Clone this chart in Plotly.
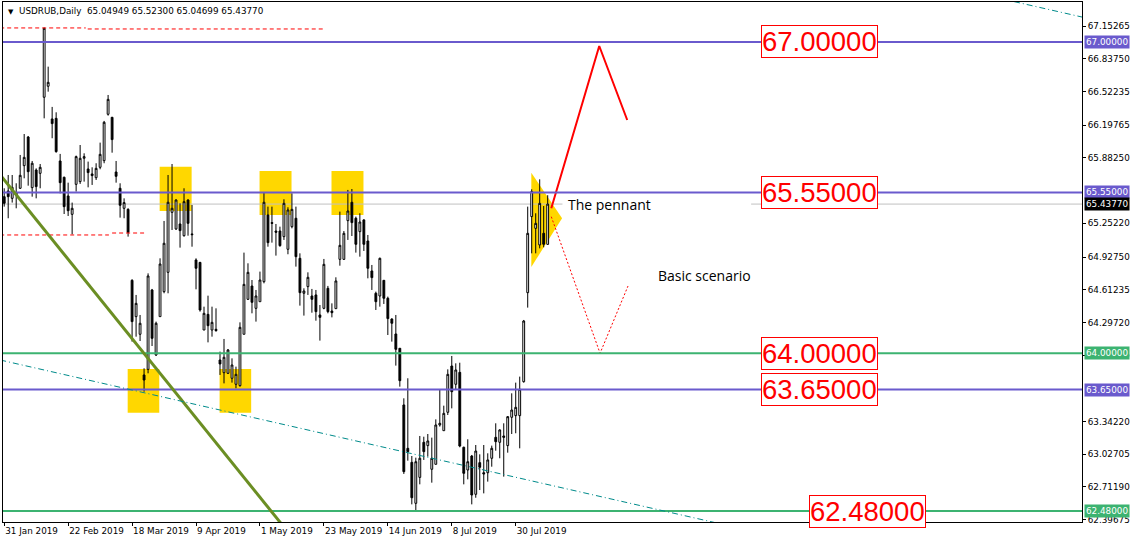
import plotly.graph_objects as go

# ---------------- data ----------------
tick_bars = [0, 16, 32, 48, 64, 80, 96, 112, 128]
tick_dates = ["31 Jan 2019", "22 Feb 2019", "18 Mar 2019", "9 Apr 2019", "1 May 2019",
              "23 May 2019", "14 Jun 2019", "8 Jul 2019", "30 Jul 2019"]

open_ = [65.509, 65.564, 65.493, 65.548, 65.590, 65.808, 66.084, 65.596, 65.766, 65.734,
         66.467, 66.573, 66.258, 66.264, 65.853, 65.696, 65.516, 65.339, 65.628, 65.654,
         65.879, 65.776, 65.728, 65.692, 65.792, 65.856, 66.303, 66.274, 65.747, 65.590,
         65.397, 65.387, 64.703, 64.353, 64.183, 63.791, 63.845, 64.610, 63.983, 64.353,
         64.594, 64.780, 65.358, 65.198, 65.246, 65.133, 65.477, 65.150, 64.899, 64.876,
         64.224, 64.375, 64.224, 64.231, 63.935, 63.813, 63.807, 63.759, 63.701, 63.688,
         64.183, 64.520, 64.648, 64.433, 64.497, 64.690, 65.333, 65.259, 65.178, 65.178,
         65.124, 65.002, 65.220, 65.301, 64.915, 64.578, 64.642, 64.552, 64.562, 64.369,
         64.433, 64.626, 64.407, 64.430, 64.905, 64.905, 65.278, 65.455, 65.301, 65.172,
         65.285, 65.082, 64.793, 64.578, 64.552, 64.703, 64.530, 64.330, 64.186, 64.048,
         63.502, 63.084, 62.949, 62.554, 62.804, 63.142, 63.110, 62.882, 62.930, 63.309,
         63.254, 63.431, 63.877, 63.701, 63.816, 63.094, 62.875, 63.010, 62.641, 62.946,
         62.849, 62.849, 62.988, 63.190, 63.142, 63.203, 63.110, 63.383, 63.399, 63.399,
         63.726, 64.584, 65.317, 65.204, 65.044, 65.156, 65.04949]
high = [65.590, 65.718, 65.718, 65.638, 65.911, 66.113, 66.094, 65.853, 65.782, 65.824,
        67.138, 66.762, 66.374, 66.322, 65.921, 65.702, 65.644, 65.452, 65.905, 66.007,
        65.927, 65.847, 65.792, 65.831, 66.030, 66.239, 66.489, 66.277, 65.853, 65.638,
        65.493, 65.397, 64.713, 64.562, 64.369, 63.855, 64.770, 64.620, 64.305, 64.915,
        65.275, 65.718, 65.824, 65.484, 65.445, 65.590, 65.484, 65.429, 64.915, 64.880,
        64.449, 64.555, 64.449, 64.433, 64.016, 64.138, 64.041, 63.951, 63.871, 64.298,
        64.970, 64.867, 64.706, 64.610, 64.787, 65.551, 65.413, 65.413, 65.246, 65.220,
        65.484, 65.407, 65.542, 65.413, 64.963, 64.626, 64.780, 64.620, 64.610, 64.465,
        64.909, 64.649, 64.481, 64.732, 65.365, 65.178, 65.574, 65.583, 65.317, 65.349,
        65.291, 65.140, 64.851, 64.594, 64.922, 64.706, 64.546, 64.337, 64.369, 64.050,
        63.566, 63.759, 63.010, 62.994, 63.203, 63.196, 63.222, 63.187, 63.363, 63.646,
        63.495, 63.845, 63.974, 63.903, 63.909, 63.100, 63.171, 63.020, 63.116, 63.026,
        63.116, 63.036, 63.110, 63.325, 63.267, 63.325, 63.395, 63.614, 63.717, 63.775,
        64.321, 65.413, 65.580, 65.349, 65.676, 65.419, 65.52300]
low = [65.413, 65.301, 65.452, 65.397, 65.583, 65.686, 65.615, 65.509, 65.493, 65.590,
       66.264, 66.521, 66.072, 65.933, 65.541, 65.342, 65.323, 65.146, 65.558, 65.632,
       65.654, 65.599, 65.622, 65.670, 65.773, 65.831, 66.290, 65.933, 65.644, 65.307,
       65.301, 65.124, 64.112, 64.160, 64.118, 63.630, 63.807, 64.070, 63.974, 64.353,
       64.578, 64.578, 65.188, 65.188, 65.018, 65.124, 65.133, 65.027, 64.616, 64.401,
       64.224, 64.105, 64.160, 64.208, 63.791, 63.710, 63.800, 63.717, 63.662, 63.678,
       64.183, 64.513, 64.385, 64.305, 64.497, 64.674, 65.027, 65.066, 64.941, 65.027,
       65.092, 64.954, 65.204, 64.835, 64.459, 64.363, 64.562, 64.391, 64.314, 64.122,
       64.424, 64.385, 64.346, 64.430, 64.844, 64.899, 65.092, 65.130, 64.970, 64.931,
       64.986, 64.722, 64.610, 64.417, 64.449, 64.475, 64.176, 64.112, 63.881, 63.678,
       62.837, 62.965, 62.544, 62.474, 62.737, 62.972, 63.004, 62.753, 62.930, 63.293,
       63.254, 63.405, 63.469, 63.646, 63.094, 62.737, 62.785, 62.544, 62.608, 62.682,
       62.650, 62.763, 62.907, 63.061, 62.988, 62.811, 63.042, 63.222, 63.229, 63.084,
       63.717, 64.440, 64.963, 64.963, 65.011, 65.021, 65.04699]
close = [65.445, 65.509, 65.599, 65.525, 65.715, 65.888, 65.750, 65.831, 65.606, 65.792,
         67.132, 66.611, 66.213, 65.943, 65.644, 65.413, 65.374, 65.397, 65.895, 65.879,
         65.895, 65.741, 65.712, 65.782, 65.917, 66.226, 66.447, 66.059, 65.705, 65.426,
         65.452, 65.166, 64.305, 64.481, 64.289, 63.742, 64.745, 64.144, 64.289, 64.860,
         65.060, 65.455, 65.397, 65.477, 65.182, 65.461, 65.252, 65.143, 64.819, 64.417,
         64.385, 64.266, 64.298, 64.218, 63.897, 63.961, 64.032, 63.887, 63.797, 64.250,
         64.664, 64.780, 64.491, 64.552, 64.706, 65.455, 65.066, 65.252, 65.166, 65.037,
         65.445, 65.381, 65.387, 64.931, 64.584, 64.600, 64.732, 64.520, 64.401, 64.346,
         64.857, 64.401, 64.391, 64.697, 65.040, 65.156, 65.371, 65.259, 65.050, 65.265,
         65.050, 64.819, 64.729, 64.497, 64.915, 64.530, 64.334, 64.289, 64.038, 63.736,
         62.859, 63.052, 62.608, 62.955, 62.988, 63.052, 63.155, 62.988, 63.309, 63.325,
         63.421, 63.797, 63.630, 63.839, 63.106, 62.843, 62.955, 62.634, 63.058, 62.901,
         62.837, 62.972, 63.084, 63.148, 63.261, 63.190, 63.389, 63.453, 63.479, 63.653,
         64.311, 65.156, 65.558, 65.252, 65.445, 65.050, 65.43770]
bars = list(range(len(open_)))

purple_levels = [67.0, 65.55, 63.65]
green_levels = [64.0, 62.48]
last_price = 65.4377
price_ticks = [67.15265, 66.83750, 66.52235, 66.19765, 65.88250, 65.25220, 64.92750,
               64.61235, 64.29720, 63.98205, 63.34220, 63.02705, 62.71190, 62.39675]

# overlay objects (bar index, price)
zones = [(38.9, 46.9, 65.371, 65.798), (63.9, 71.9, 65.333, 65.757),
         (81.9, 89.9, 65.333, 65.757), (30.9, 38.8, 63.427, 63.849),
         (53.9, 61.8, 63.427, 63.849)]
pennant = [(131.9, 65.740), (139.6, 65.301), (131.9, 64.832)]
trend = [(-1, 65.718), (72, 62.230)]
channel_low = [(-1, 63.935), (182, 62.332)]
channel_high = [(240, 67.500), (272, 67.220)]
red_dash = [((-1, 67.135), (20.4, 67.135)), ((20.9, 67.125), (80.4, 67.125)),
            ((-1, 65.140), (26.2, 65.140)), ((27.0, 65.159), (35.0, 65.159))]
bull_path = [(136.9, 65.397), (148.9, 66.961), (155.9, 66.248)]
base_path = [(136.9, 65.316), (149.1, 64.0), (156.1, 64.648)]
bid_segments = [(-1, 139.7), (186.9, 280)]

PURPLE = "#6A5ACD"
GREEN = "#3CB371"
GOLD = "#FFD700"

fig = go.Figure()
fig.add_trace(go.Candlestick(
    x=bars, open=open_, high=high, low=low, close=close,
    increasing=dict(line=dict(color="black", width=1), fillcolor="white"),
    decreasing=dict(line=dict(color="black", width=1), fillcolor="black"),
    whiskerwidth=0, hoverinfo="skip", showlegend=False))

shapes = []
for x0, x1, y0, y1 in zones:
    shapes.append(dict(type="rect", xref="x", yref="y", x0=x0, x1=x1, y0=y0, y1=y1,
                       fillcolor=GOLD, line=dict(width=0), layer="below"))
path = "M {} {} L {} {} L {} {} Z".format(*[v for p in pennant for v in p])
shapes.append(dict(type="path", xref="x", yref="y", path=path, fillcolor=GOLD,
                   line=dict(width=0), layer="below"))
for a, b in bid_segments:
    shapes.append(dict(type="line", xref="x", yref="y", x0=a, x1=b, y0=last_price,
                       y1=last_price, line=dict(color="#C0C0C0", width=1), layer="below"))
for lv in purple_levels:
    shapes.append(dict(type="line", xref="paper", yref="y", x0=0, x1=1, y0=lv, y1=lv,
                       line=dict(color=PURPLE, width=2)))
for lv in green_levels:
    shapes.append(dict(type="line", xref="paper", yref="y", x0=0, x1=1, y0=lv, y1=lv,
                       line=dict(color=GREEN, width=2)))
for (p0, p1) in red_dash:
    shapes.append(dict(type="line", xref="x", yref="y", x0=p0[0], y0=p0[1], x1=p1[0],
                       y1=p1[1], line=dict(color="red", width=1, dash="4px,3px")))
shapes.append(dict(type="line", xref="x", yref="y", x0=trend[0][0], y0=trend[0][1],
                   x1=trend[1][0], y1=trend[1][1], line=dict(color="#6B8E23", width=3)))
for ch in (channel_low, channel_high):
    shapes.append(dict(type="line", xref="x", yref="y", x0=ch[0][0], y0=ch[0][1],
                       x1=ch[1][0], y1=ch[1][1],
                       line=dict(color="#008B8B", width=1, dash="6px,3px,1px,3px")))
fig.update_layout(shapes=shapes)

fig.add_trace(go.Scatter(x=[p[0] for p in bull_path], y=[p[1] for p in bull_path],
                         mode="lines", line=dict(color="red", width=2),
                         hoverinfo="skip", showlegend=False))
fig.add_trace(go.Scatter(x=[p[0] for p in base_path], y=[p[1] for p in base_path],
                         mode="lines", line=dict(color="red", width=1, dash="2px,2px"),
                         hoverinfo="skip", showlegend=False))

ann = []
ann.append(dict(x=140.6, y=65.429, xref="x", yref="y", text="The pennant",
                showarrow=False, xanchor="left", yanchor="middle",
                font=dict(family="Open Sans", size=14, color="black")))
ann.append(dict(x=163.1, y=64.754, xref="x", yref="y", text="Basic scenario",
                showarrow=False, xanchor="left", yanchor="middle",
                font=dict(family="Open Sans", size=14, color="black")))
big_labels = [(204, 67.0), (204, 65.55), (204, 64.0), (204, 63.65), (216, 62.48)]
for bx, lv in big_labels:
    ann.append(dict(x=bx, y=lv, xref="x", yref="y", text=f"{lv:.5f}", showarrow=False,
                    xanchor="center", yanchor="middle",
                    font=dict(family="Liberation Sans", size=27.5, color="red"),
                    bgcolor="white", bordercolor="red", borderwidth=1, borderpad=0))
tags = [(67.0, PURPLE), (65.55, PURPLE), (last_price, "black"), (64.0, GREEN),
        (63.65, PURPLE), (62.48, GREEN)]
for lv, col in tags:
    ann.append(dict(x=1, y=lv, xref="paper", yref="y", text=f"{lv:.5f}", showarrow=False,
                    xanchor="left", yanchor="middle", xshift=2,
                    font=dict(family="DejaVu Sans", size=8.8, color="white"),
                    bgcolor=col, borderpad=1))
ann.append(dict(x=0, y=1, xref="paper", yref="paper",
                text="<span style='font-size:7px'>▼</span>  USDRUB,Daily  65.04949 65.52300 65.04699 65.43770",
                showarrow=False, xanchor="left", yanchor="top", xshift=3, yshift=-2,
                font=dict(family="DejaVu Sans", size=8.8, color="black")))
fig.update_layout(annotations=ann)

fig.update_layout(
    width=1134, height=545,
    margin=dict(l=3, r=52, t=2, b=23, autoexpand=False),
    paper_bgcolor="white", plot_bgcolor="white",
    boxgap=0.35,
    showlegend=False,
    font=dict(family="DejaVu Sans", size=8.8, color="black"),
    xaxis=dict(range=[-0.3, 269.7], rangeslider=dict(visible=False),
               tickvals=tick_bars, ticktext=tick_dates, ticks="outside", ticklen=3,
               tickcolor="black", ticklabelposition="outside right", tickangle=0,
               automargin=False,
               showline=True, linecolor="black", linewidth=1, mirror=True,
               showgrid=False, zeroline=False, fixedrange=True,
               tickfont=dict(family="DejaVu Sans", size=8.8, color="black")),
    yaxis=dict(range=[62.374, 67.385], side="right", tickvals=price_ticks,
               ticktext=[f"{v:.5f}" for v in price_ticks], ticks="outside", ticklen=3,
               tickcolor="black", showline=True, linecolor="black", linewidth=1,
               mirror=True, showgrid=False, zeroline=False, fixedrange=True,
               automargin=False,
               tickfont=dict(family="DejaVu Sans", size=8.8, color="black")),
)

fig.write_html("out.html", config={"displayModeBar": False},
               post_script="document.body.style.margin='0';")
